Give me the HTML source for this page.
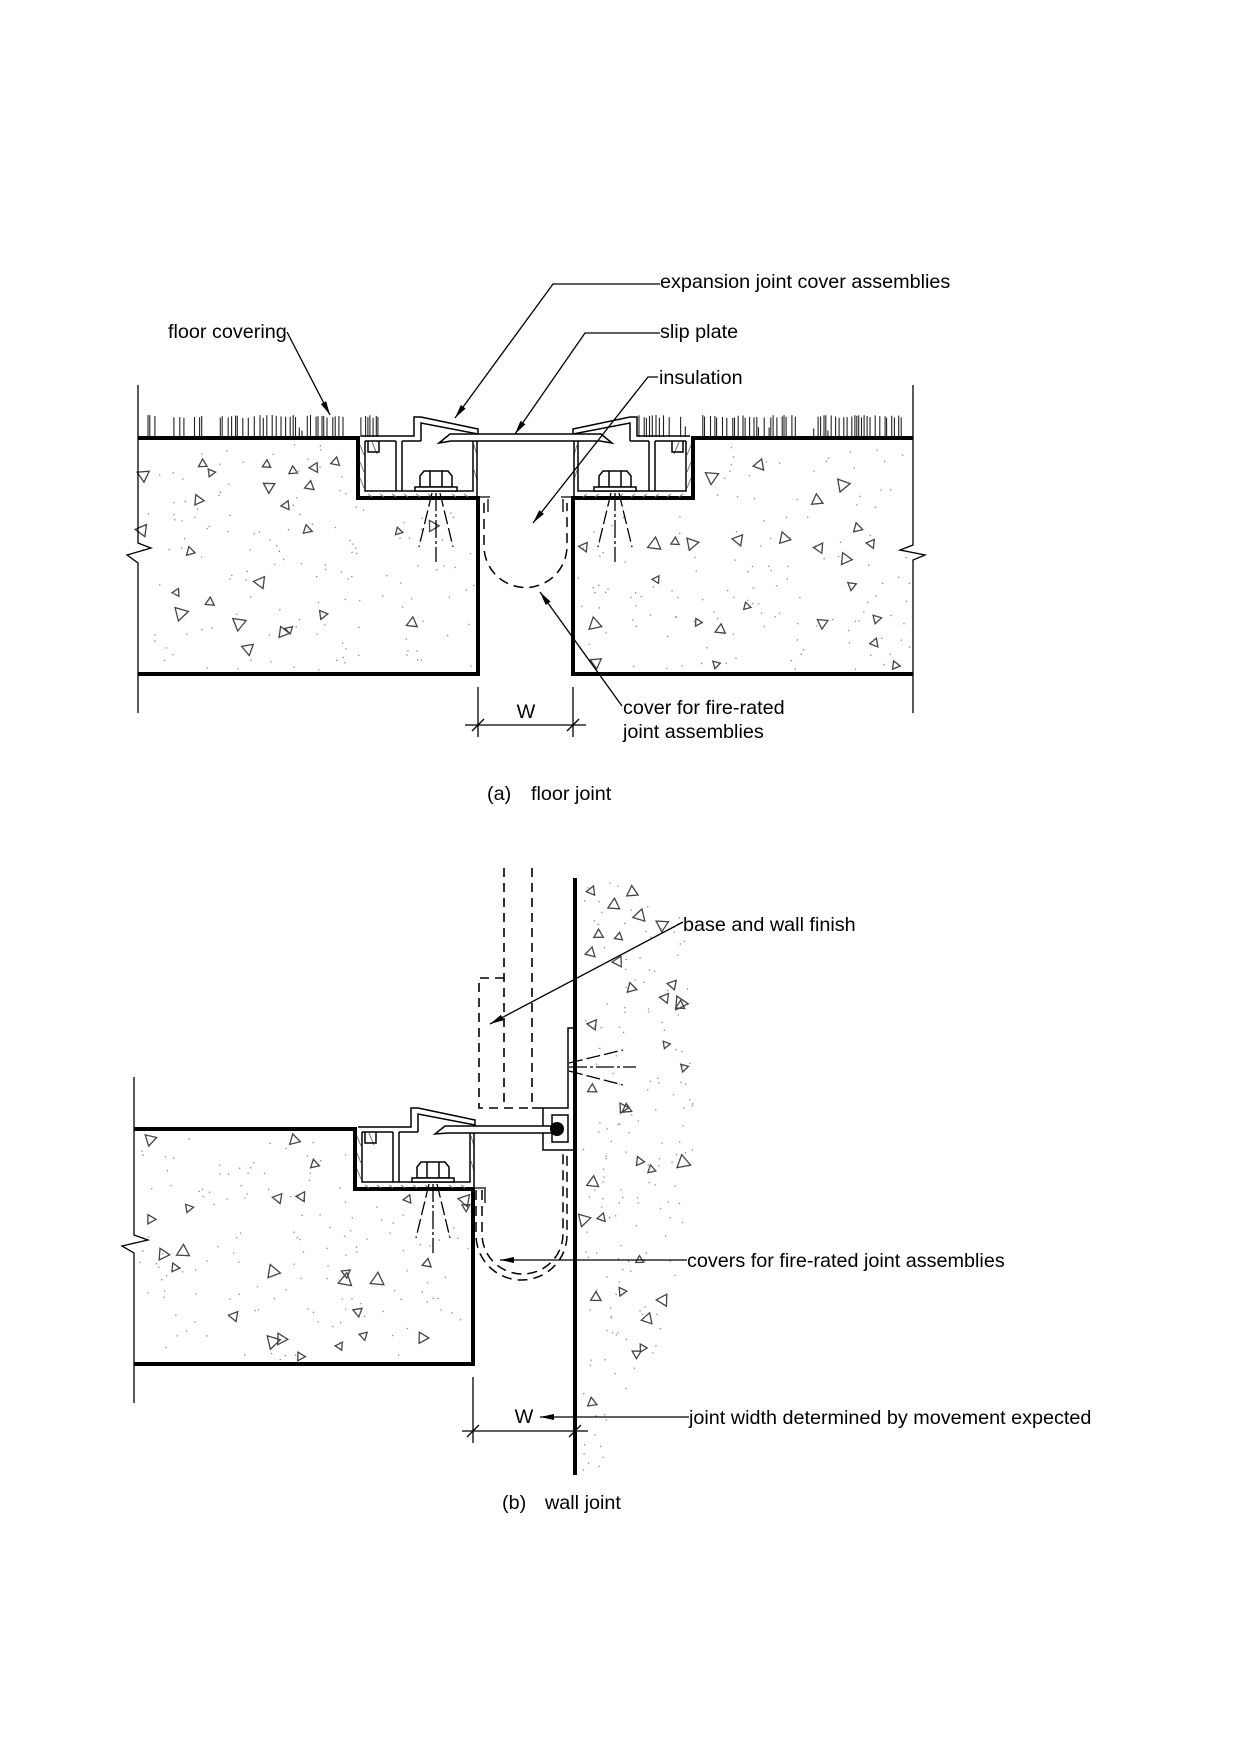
<!DOCTYPE html>
<html>
<head>
<meta charset="utf-8">
<style>
  html,body{margin:0;padding:0;background:#fff;}
  svg{display:block;}
  text{font-family:"Liberation Sans",Arial,sans-serif;font-size:19.8px;fill:#000;}
</style>
</head>
<body>
<svg id="s" xmlns="http://www.w3.org/2000/svg" width="1240" height="1755" viewBox="0 0 1240 1755">
  <defs>
    <marker id="ar" viewBox="0 0 14 6" refX="14" refY="3" markerWidth="14" markerHeight="6" orient="auto" markerUnits="userSpaceOnUse">
      <path d="M0,0 L14,3 L0,6 z" fill="#000"/>
    </marker>
    <g id="asm" fill="none" stroke="#000" stroke-width="1.5">
      <path d="M360,445 L364,455 M360,462 L364,472 M360,478 L364,488 M368,494 L372,497 M380,494 L384,497 M392,494 L396,497 M404,494 L408,497 M416,494 L420,497 M428,494 L432,497 M452,494 L456,497 M464,494 L468,497 M474,445 L477,455 M474,470 L477,480" stroke="#777" stroke-width="1"/>
      <path d="M372,442 L377,454" stroke="#777" stroke-width="1"/>
      <path d="M365,441 V491 H473 V441"/>
      <path d="M477,436 V497"/>
      <path d="M396,441 V491 M402,441 V491"/>
      <path d="M361,436 H414 V417 H421 L478,429 V434 L421,423 V441 M365,441 H396 M402,441 H421"/>
      <path d="M368,441 V452 H379 V441"/>
      <path d="M420,476 L424,471 H448 L452,476 V487 H420 Z M430,471 V487 M442,471 V487" fill="#fff"/>
      <rect x="415" y="487" width="42" height="4" fill="#fff"/>
      <path d="M432,493 L419,547" stroke-dasharray="14,4" stroke-width="1.3"/>
      <path d="M436,493 V562" stroke-dasharray="18,3,3,3" stroke-width="1.3"/>
      <path d="M440,493 L453,547" stroke-dasharray="14,4" stroke-width="1.3"/>
    </g>
  </defs>

  <g id="tex"></g>

  <!-- ===================== (a) FLOOR JOINT ===================== -->
  <g fill="none" stroke="#000">
    <path d="M138,438 H358 V498 H478 V674 H138" stroke-width="4"/>
    <path d="M913,438 H693 V498 H573 V674 H913" stroke-width="4"/>
    <path d="M138,385 V543 L151,548 L127,555 L138,563 V713" stroke-width="1.3"/>
    <path d="M913,385 V545 L900,550 L925,555 L913,560 V713" stroke-width="1.3"/>
  </g>
  <use href="#asm"/>
  <use href="#asm" transform="matrix(-1,0,0,1,1051,0)"/>
  <g fill="none" stroke="#000" stroke-width="1.5">
    <path d="M439,443 L450,434 H601 L612,443 L600,441 H451 Z" fill="#fff"/>
    <path d="M478,497 H490 M488,499 V512 M573,497 H561 M563,499 V512" stroke-width="1.3"/>
    <path d="M484,503 V546 A41.5,41.5 0 0 0 567,546 V503" stroke-dasharray="10,6"/>
  </g>

  <g fill="none" stroke="#000" stroke-width="1.3">
    <polyline points="660,284 553,284 455,418" marker-end="url(#ar)"/>
    <polyline points="660,333 585,333 515,434" marker-end="url(#ar)"/>
    <polyline points="658,377 648,377 533,523" marker-end="url(#ar)"/>
    <line x1="287" y1="332" x2="330" y2="415" marker-end="url(#ar)"/>
    <line x1="622" y1="706" x2="540" y2="592" marker-end="url(#ar)"/>
    <path d="M478,687 V737 M573,687 V737 M465,725 H586"/>
    <path d="M472,731 L484,719 M567,731 L579,719"/>
  </g>

  <text x="168" y="338">floor covering</text>
  <text x="660" y="288">expansion joint cover assemblies</text>
  <text x="660" y="338">slip plate</text>
  <text x="659" y="384">insulation</text>
  <text x="623" y="714">cover for fire-rated</text>
  <text x="623" y="738">joint assemblies</text>
  <text x="526" y="718" text-anchor="middle">W</text>
  <text x="487" y="800">(a)</text>
  <text x="531" y="800">floor joint</text>

  <!-- ===================== (b) WALL JOINT ===================== -->
  <g fill="none" stroke="#000">
    <path d="M134,1129 H355 V1189 H473 V1364 H134" stroke-width="4"/>
    <path d="M134,1077 V1235 L148,1240 L122,1246 L134,1253 V1403" stroke-width="1.3"/>
    <path d="M575,878 V1475" stroke-width="4"/>
  </g>
  <use href="#asm" transform="translate(-3,691)"/>
  <g fill="none" stroke="#000" stroke-width="1.5">
    <path d="M504,868 V1108 M532,868 V1108" stroke-dasharray="9,6" stroke-width="1.6"/>
    <path d="M504,978 H479 V1108 H532" stroke-dasharray="9,6" stroke-width="1.6"/>
    <path d="M532,1108 H568 V1028 H575"/>
    <path d="M543,1108 V1150 H575"/>
    <rect x="552" y="1115" width="16" height="27" fill="#fff"/>
    <path d="M435,1134 L445,1126 H552 V1133 H448 Z" fill="#fff"/>
    <path d="M569,1063 L623,1050" stroke-dasharray="14,4" stroke-width="1.3"/>
    <path d="M569,1067 H636" stroke-dasharray="18,3,3,3" stroke-width="1.3"/>
    <path d="M569,1071 L623,1085" stroke-dasharray="14,4" stroke-width="1.3"/>
    <path d="M476,1190 V1235 A45.5,45 0 0 0 567,1235 V1152" stroke-dasharray="10,6"/>
    <path d="M482,1190 V1234 A40.5,40 0 0 0 563,1234 V1152" stroke-dasharray="10,6"/>
    <path d="M473,1188 H486 M485,1189 V1203" stroke-width="1.3"/>
  </g>
  <circle cx="557" cy="1129" r="7" fill="#000"/>

  <g fill="none" stroke="#000" stroke-width="1.3">
    <line x1="683" y1="922" x2="490" y2="1024" marker-end="url(#ar)"/>
    <line x1="687" y1="1260" x2="500" y2="1260" marker-end="url(#ar)"/>
    <line x1="689" y1="1417" x2="540" y2="1417" marker-end="url(#ar)"/>
    <path d="M473,1377 V1443 M462,1431 H588"/>
    <path d="M467,1437 L479,1425 M569,1437 L581,1425"/>
  </g>

  <text x="683" y="931">base and wall finish</text>
  <text x="687" y="1267">covers for fire-rated joint assemblies</text>
  <text x="689" y="1424">joint width determined by movement expected</text>
  <text x="524" y="1423" text-anchor="middle">W</text>
  <text x="502" y="1509">(b)</text>
  <text x="545" y="1509">wall joint</text>
</svg>

<script>
(function(){
  var NS='http://www.w3.org/2000/svg';
  var tex=document.getElementById('tex');
  var seed=20240517;
  function r(){seed=(seed*1664525+1013904223)>>>0;return seed/4294967296;}
  function add(tag,a){var e=document.createElementNS(NS,tag);for(var k in a)e.setAttribute(k,a[k]);tex.appendChild(e);}
  function tri(x,y){
    var s=7+r()*6, a=r()*Math.PI*2, p=[];
    for(var i=0;i<3;i++){var t=a+i*2.0944;p.push((x+Math.cos(t)*s*0.62).toFixed(1)+','+(y+Math.sin(t)*s*0.62).toFixed(1));}
    add('polygon',{points:p.join(' '),fill:'none',stroke:'#444','stroke-width':'1.3'});
  }
  function dot(x,y){add('rect',{x:x.toFixed(1),y:y.toFixed(1),width:'1.3',height:'1.3',fill:'#888'});}
  function region(bx,by,bw,bh,inside,nt,nd){
    var c=0,g=0;
    while(c<nt&&g<5000){g++;var x=bx+r()*bw,y=by+r()*bh;if(inside(x,y)){tri(x,y);c++;}}
    c=0;g=0;
    while(c<nd&&g<5000){g++;var x=bx+r()*bw,y=by+r()*bh;if(inside(x,y)){dot(x,y);c++;}}
  }
  region(142,444,332,226,function(x,y){return !(x>352&&y<506);},26,140);
  region(577,444,332,226,function(x,y){return !(x<699&&y<506);},26,140);
  region(138,1135,331,225,function(x,y){return !(x>349&&y<1197);},26,140);
  region(582,880,130,590,function(x,y){
    var lim=575+105+15*Math.sin((y-880)/120)+ (y>1300? -(y-1300)*0.3:0);
    return x<lim;
  },34,170);
  function grass(x0,x1){
    var x=x0;
    while(x<x1){
      if(r()<0.10){x+=7+r()*12;continue;}
      var h=r()<0.12?6+r()*8:19+r()*3;
      add('line',{x1:x.toFixed(1),y1:'437',x2:x.toFixed(1),y2:(437-h).toFixed(1),stroke:'#222','stroke-width':'1.1'});
      x+=1.5+r()*4.5;
    }
  }
  grass(148,412);
  grass(639,902);
})();
</script>
</body>
</html>
